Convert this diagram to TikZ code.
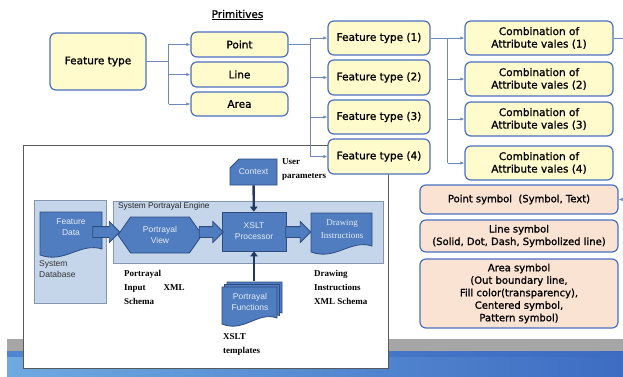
\documentclass[tikz,border=0pt]{standalone}
\usepackage{fontspec}
\setmainfont{DejaVu Sans}[FakeBold=1.2]
\newfontfamily\labelfont{Liberation Sans}
\newfontfamily\notefont{Liberation Serif}
\usetikzlibrary{positioning, arrows.meta, shapes.arrows, shapes.misc, shapes.symbols, calc}

\definecolor{boxline}{HTML}{4A6FC0}
\definecolor{boxyellow}{HTML}{FFFBCC}
\definecolor{boxpeach}{HTML}{FBE3D4}
\definecolor{linkblue}{HTML}{6F89BA}
\definecolor{midblue}{HTML}{4F7DC0}
\definecolor{darkline}{HTML}{2F4C80}
\definecolor{navy}{HTML}{1F3864}
\definecolor{contblue}{HTML}{C5D5EA}
\definecolor{contline}{HTML}{8497B0}
\definecolor{intextcol}{HTML}{E6ECF6}
\definecolor{bandgray}{HTML}{A6A6A6}
\definecolor{bandlight}{HTML}{6FA9E0}
\definecolor{banddark}{HTML}{3D6CC2}

% document shape with a wavy lower edge
\newcommand{\docshape}[5][]{%
  \path[#1] (#2,#3) -- (#4,#3) -- (#4,#5)
    .. controls +(-0.35*#4+0.35*#2,-7) and +(0.4*#4-0.4*#2,9) .. (#2,#5+6) -- cycle;}

\tikzset{
  ybox/.style={draw=boxline, fill=boxyellow, line width=1.2pt, rounded corners=6pt,
    align=center, inner sep=0pt, font=\fontsize{10.5}{12.5}\selectfont},
  pbox/.style={ybox, fill=boxpeach, font=\fontsize{10}{12.5}\selectfont},
  link/.style={draw=linkblue, line width=0.7pt},
  arr/.style={link, -{Latex[length=4pt,width=3.5pt]}},
  bluebox/.style={draw=darkline, fill=midblue, line width=0.8pt, text=intextcol,
    align=center, inner sep=0pt, font=\labelfont\fontsize{8.5}{11}\selectfont},
  bluedoc/.style={draw=darkline, fill=midblue, line width=0.8pt},
  contbox/.style={draw=contline, fill=contblue, line width=0.8pt},
  intext/.style={text=intextcol, align=center, inner sep=0pt,
    font=\labelfont\fontsize{8.5}{11}\selectfont},
  note/.style={align=left, inner sep=0pt, anchor=north west,
    font=\notefont\bfseries\fontsize{9}{14}\selectfont},
  blockarr/.style={single arrow, draw=darkline, fill=midblue, line width=0.8pt,
    inner xsep=0pt, inner ysep=5pt, single arrow head extend=5pt},
  thickarr/.style={draw=navy, line width=2.4pt, -{Triangle[length=5pt,width=7.5pt]}}
}

\begin{document}
\begin{tikzpicture}[x=1pt, y=-1pt]
\useasboundingbox (0,0) rectangle (623,377);

% bottom band
\fill[bandgray] (7,339) rectangle (623,351);
\shade[left color=bandlight, right color=banddark] (7,351) rectangle (623,377);
\fill[banddark, opacity=0.6] (7,351) rectangle (623,357);

% inset picture
\draw[gray!70!black, fill=white, line width=0.8pt] (23,145) rectangle (388,368);
\draw[contbox] (34,200) rectangle (106,303);
\draw[contbox] (113,201) rectangle (383,263);
\node[anchor=north west, inner sep=0pt, text=black!85, font=\labelfont\fontsize{8.3}{9}\selectfont] (speng) at (118,202) {System Portrayal Engine};
\node[anchor=north west, inner sep=0pt, align=left, text=black!80, font=\labelfont\fontsize{8.5}{11}\selectfont] (sdb) at (39,260) {System\\Database};

\docshape[bluedoc]{40}{212}{102}{249}
\node[intext] (fd) at (71,227) {Feature\\Data};
\node[bluebox, signal, signal to=west and east, signal pointer angle=110,
  minimum width=84, minimum height=36] (pv) at (160,235) {Portrayal\\View};
\node[bluebox, minimum width=64, minimum height=39] (xp) at (254,231.5) {XSLT\\Processor};
\docshape[bluedoc]{311}{213}{372}{246}
\node[intext, font=\notefont\fontsize{9}{13}\selectfont] (di) at (342,229) {Drawing\\Instructions};
\node[bluebox, chamfered rectangle, chamfered rectangle corners=north west,
  chamfered rectangle xsep=7pt, chamfered rectangle ysep=6pt,
  minimum width=47, minimum height=26] (ctx) at (253.5,172) {Context};

\docshape[bluedoc]{227}{282}{282}{313}
\docshape[bluedoc]{224.5}{284.5}{279.5}{315.5}
\docshape[bluedoc]{222}{287}{277}{318}
\node[intext] (pf) at (250,302) {Portrayal\\Functions};
\coordinate (pftop) at (254,281);

\node[blockarr, minimum height=27] (ba1) at (103.5,232) {};
\node[blockarr, minimum height=24] (ba2) at (208.5,232) {};
\node[blockarr, minimum height=25] (ba3) at (295.5,232) {};

\draw[thickarr] (ctx) -- (xp);
\draw[thickarr] (pftop) -- (xp.south);

\node[note] (upar) at (282,158) {User\\parameters};
\node[note] (pinp) at (124,270) {Portrayal\\Input\hspace{18pt}XML\\Schema};
\node[note] (dins) at (314,270) {Drawing\\Instructions\\XML Schema};
\node[note] (xtpl) at (223,333) {XSLT\\templates};

% feature tree
\node[font=\fontsize{10.5}{12}\selectfont] (prim) at (237.5,15) {\underline{Primitives}};
\node[ybox, minimum width=96, minimum height=57] (ft) at (98,61.5) {Feature type};
\node[ybox, minimum width=97, minimum height=25] (pt) at (239.5,44.5) {Point};
\node[ybox, minimum width=97, minimum height=25] (ln) at (239.5,74.5) {Line};
\node[ybox, minimum width=97, minimum height=24] (ar) at (239.5,104) {Area};

\node[ybox, minimum width=102, minimum height=34] (f1) at (379,38) {Feature type (1)};
\node[ybox, minimum width=102, minimum height=35] (f2) at (379,77.5) {Feature type (2)};
\node[ybox, minimum width=102, minimum height=34] (f3) at (379,117) {Feature type (3)};

\node[ybox, minimum width=148, minimum height=34] (c1) at (539,38) {Combination of\\Attribute vales (1)};
\node[ybox, minimum width=148, minimum height=34] (c2) at (539,79) {Combination of\\Attribute vales (2)};
\node[ybox, minimum width=148, minimum height=34] (c3) at (539,119) {Combination of\\Attribute vales (3)};
\node[ybox, minimum width=148, minimum height=34] (c4) at (539,163) {Combination of\\Attribute vales (4)};

\node[pbox, minimum width=198, minimum height=29] (ps) at (519,199.5) {Point symbol~~(Symbol, Text)};
\node[pbox, minimum width=198, minimum height=32] (ls) at (519,236) {Line symbol\\(Solid, Dot, Dash, Symbolized line)};
\node[pbox, minimum width=198, minimum height=69] (as) at (519,293.5) {Area symbol\\(Out boundary line,\\Fill color(transparency),\\Centered symbol,\\Pattern symbol)};

\draw[link] (ft.east) -- ++(22,0) coordinate (j1);
\draw[link] (j1 |- pt.west) -- (j1 |- ar.west);
\foreach \n in {pt,ln,ar}
  \draw[arr] (j1 |- \n.west) -- (\n.west);

\node[ybox, minimum width=102, minimum height=35] (f4) at (379,156.5) {Feature type (4)};
\draw[link] (pt.east) -- ++(22,0) coordinate (j2);
\draw[link] (j2 |- f1.west) -- (j2 |- f4.west);
\foreach \n in {f1,f2,f3,f4}
  \draw[arr] (j2 |- \n.west) -- (\n.west);

\draw[link] (f1.east) -- ++(17,0) coordinate (j3);
\draw[link] (j3 |- c1.west) -- (j3 |- c4.west);
\foreach \n in {c1,c2,c3,c4}
  \draw[arr] (j3 |- \n.west) -- (\n.west);

\draw[arr] (c1.east) -- ++(20,0) |- (ps.east);
\end{tikzpicture}
\end{document}
